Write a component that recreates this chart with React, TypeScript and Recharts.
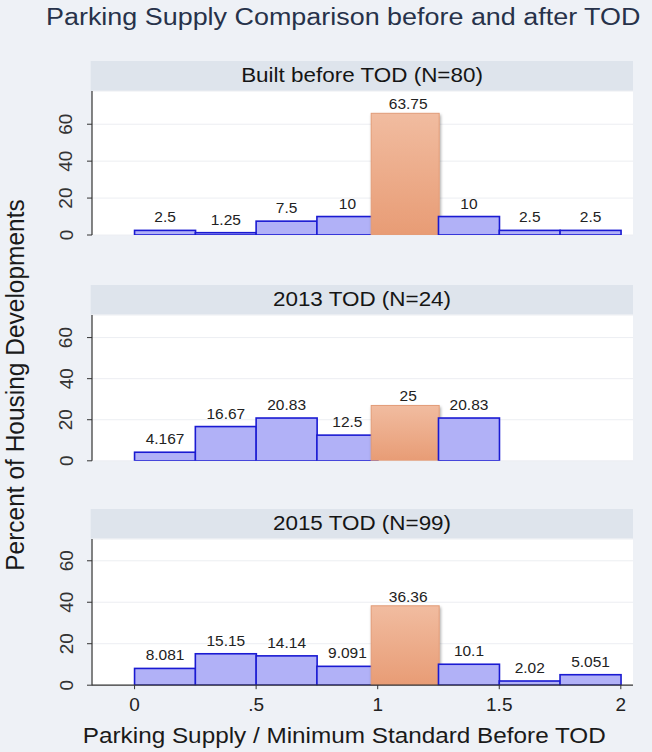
import { Bar, BarChart, CartesianGrid, LabelList, XAxis, YAxis } from "recharts";

// histogram bins (width 0.25), bar centres on the x scale
const binMids = [0.125, 0.375, 0.625, 0.875, 1.125, 1.375, 1.625, 1.875];
const beforeTod = [2.5, 1.25, 7.5, 10, 63.75, 10, 2.5, 2.5];
const tod2013 = [4.167, 16.67, 20.83, 12.5, 25, 20.83];
const tod2015 = [8.081, 15.15, 14.14, 9.091, 36.36, 10.1, 2.02, 5.051];
const panelTitles = ["Built before TOD (N=80)", "2013 TOD (N=24)", "2015 TOD (N=99)"];
const yTicks = [0, 20, 40, 60];
const xTicks = [0, 0.5, 1, 1.5, 2];
const xTickLabels = ["0", ".5", "1", "1.5", "2"];
const highlightMid = 1.125;

const FONT = '"Liberation Sans", Arial, Helvetica, sans-serif';
const STRETCH = 1.09;
const LEFT = 92;
const RIGHT = 633;

const layout = [
  { headerTop: 61, plotTop: 91, plotBottom: 235, yMax: 78 },
  { headerTop: 285, plotTop: 314.5, plotBottom: 460.3, yMax: 71 },
  { headerTop: 509, plotTop: 538.5, plotBottom: 684.7, yMax: 70.5 },
];

function WideText({ x, y, size, anchor = "start", rotate = false, fill = "#1a1a1a", children }: any) {
  const t = `translate(${x},${y}) scale(${STRETCH},1)${rotate ? " rotate(-90)" : ""}`;
  return (
    <text transform={t} textAnchor={anchor} fontSize={size} fontFamily={FONT} fill={fill}>
      {children}
    </text>
  );
}

function YTick({ x, y, payload }: any) {
  const cx = x - 19;
  return (
    <text
      x={cx}
      y={y}
      transform={`rotate(-90, ${cx}, ${y})`}
      textAnchor="middle"
      dominantBaseline="central"
      fontSize={19}
      fontFamily={FONT}
      fill="#333"
    >
      {payload.value}
    </text>
  );
}

function BinShape(props: any) {
  const { x, y, width, height, payload } = props;
  if (!height || height <= 0) return null;
  if (payload.mid === highlightMid) {
    return (
      <rect
        x={x - 6.5}
        y={y - 4}
        width={width + 7}
        height={height + 4}
        fill="url(#orangeFill)"
        stroke="#e29c78"
        strokeWidth={1}
        filter="url(#orangeShadow)"
      />
    );
  }
  return (
    <rect x={x} y={y} width={width} height={height} fill="#b1b1f7" stroke="#1a1ad2" strokeWidth={1.6} />
  );
}

function Panel({ values, box, showX }: any) {
  const data = values.map((v: number, i: number) => ({ mid: binMids[i], value: v }));
  const marginTop = 12;
  const axisH = showX ? 40 : 0;
  const bottomPad = showX ? 0 : 14;
  const height = marginTop + (box.plotBottom - box.plotTop) + axisH + bottomPad;
  return (
    <div style={{ position: "absolute", left: 0, top: box.plotTop - marginTop }}>
      <BarChart
        width={652}
        height={height}
        data={data}
        margin={{ top: marginTop, right: 652 - RIGHT, bottom: bottomPad, left: 0 }}
        barCategoryGap={0}
        barGap={0}
      >
        <CartesianGrid vertical={false} fill="#ffffff" fillOpacity={1} stroke="#eceef2" />
        <XAxis
          dataKey="mid"
          type="number"
          domain={[-0.175, 2.05]}
          allowDataOverflow
          ticks={xTicks}
          interval={0}
          hide={!showX}
          height={axisH}
          tickSize={4}
          tickMargin={8}
          tickFormatter={(v: number) => xTickLabels[xTicks.indexOf(v)]}
          axisLine={{ stroke: "#333", strokeWidth: 1.2 }}
          tickLine={{ stroke: "#333" }}
          tick={{ fill: "#222", fontSize: 19, fontFamily: FONT }}
        />
        <YAxis
          type="number"
          domain={[0, box.yMax]}
          allowDataOverflow
          ticks={yTicks}
          interval={0}
          width={LEFT}
          tickSize={5}
          tickMargin={2}
          axisLine={{ stroke: "#333", strokeWidth: 1.2 }}
          tickLine={{ stroke: "#333" }}
          tick={<YTick />}
        />
        <Bar dataKey="value" shape={BinShape} isAnimationActive={false}>
          <LabelList dataKey="value" position="top" offset={8} fill="#222" fontSize={15.5} fontFamily={FONT} />
        </Bar>
      </BarChart>
    </div>
  );
}

export default function App() {
  const series = [beforeTod, tod2013, tod2015];
  return (
    <div
      style={{
        position: "absolute",
        left: 0,
        top: 0,
        width: 652,
        height: 752,
        background: "#eef1f6",
        overflow: "hidden",
      }}
    >
      <svg width={652} height={752} style={{ position: "absolute", left: 0, top: 0 }}>
        <defs>
          <linearGradient id="orangeFill" x1="0" x2="0" y1="0" y2="1">
            <stop offset="0%" stopColor="#f1bca0" />
            <stop offset="100%" stopColor="#e89c75" />
          </linearGradient>
          <filter id="orangeShadow" x="-20%" y="-10%" width="140%" height="125%">
            <feDropShadow dx="1" dy="2" stdDeviation="1.6" floodColor="#000" floodOpacity="0.35" />
          </filter>
        </defs>
        <WideText x={46} y={25.3} size={24.7} fill="#27324a">
          Parking Supply Comparison before and after TOD
        </WideText>
        {layout.map((box, i) => (
          <g key={panelTitles[i]}>
            <rect x={LEFT - 1.3} y={box.headerTop} width={RIGHT - LEFT + 1.3} height={box.plotTop - box.headerTop} fill="#dee4ec" />
            <WideText x={362} y={box.headerTop + 20.7} size={20.6} anchor="middle" fill="#151515">
              {panelTitles[i]}
            </WideText>
          </g>
        ))}
        <WideText x={24} y={385} size={24.5} anchor="middle" rotate>
          Percent of Housing Developments
        </WideText>
        <WideText x={344.3} y={742.7} size={22.3} anchor="middle">
          Parking Supply / Minimum Standard Before TOD
        </WideText>
      </svg>
      {series.map((values, i) => (
        <Panel key={panelTitles[i]} values={values} box={layout[i]} showX={i === 2} />
      ))}
    </div>
  );
}
